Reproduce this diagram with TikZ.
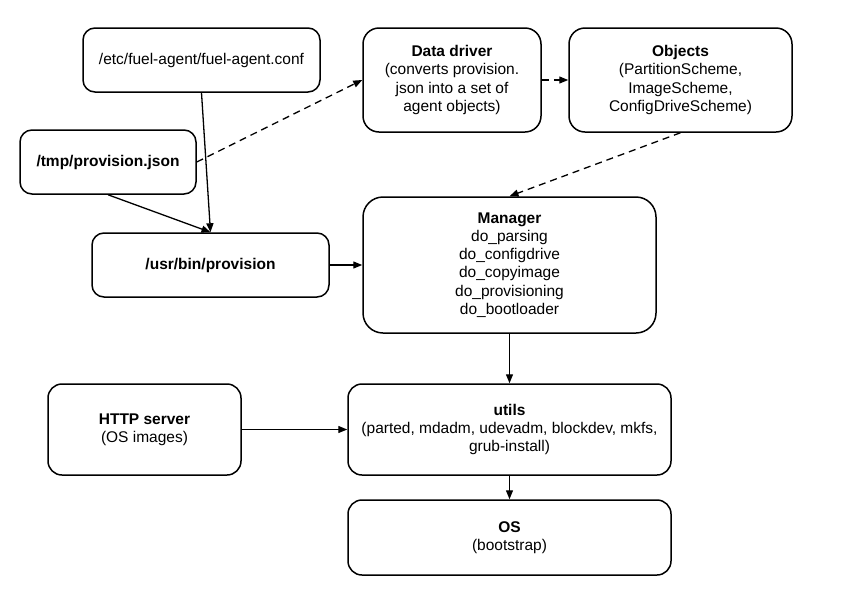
\documentclass[tikz,border=0pt]{standalone}
\usepackage{fontspec}
\setmainfont{Liberation Sans}
\usetikzlibrary{arrows.meta}

\begin{document}
\begin{tikzpicture}[x=1pt,y=-1pt,
    box/.style={draw,line width=1.5pt,rounded corners=12pt,align=center,
        font=\fontsize{15.5}{18.3}\selectfont,inner sep=0pt},
    link/.style={line width=1.3pt,-{Triangle[length=9pt,width=7pt]}},
    dlink/.style={link,dash pattern=on 7pt off 5pt}]
            \useasboundingbox (0,0) rectangle (847,598);

            \node[box,minimum width=237pt,minimum height=64pt] (conf) at (201.5,60) {/etc/fuel-agent/fuel-agent.conf};
            \node[box,minimum width=176pt,minimum height=64pt] (json) at (108,162) {\textbf{/tmp/provision.json}};
            \node[box,minimum width=237pt,minimum height=64pt] (usrbin) at (210.5,265) {\textbf{/usr/bin/provision}};
            \node[box,minimum width=178pt,minimum height=104pt,rounded corners=16pt] (driver) at (452,80)
                {\textbf{Data driver}\\(converts provision.\\json into a set of\\agent objects)};
            \node[box,minimum width=223pt,minimum height=104pt,rounded corners=16pt] (objects) at (680.5,80)
                {\textbf{Objects}\\(PartitionScheme,\\ImageScheme,\\ConfigDriveScheme)};
            \node[box,minimum width=293pt,minimum height=136pt,rounded corners=20pt] (manager) at (509.5,265)
                {\textbf{Manager}\\do\_parsing\\do\_configdrive\\do\_copyimage\\do\_provisioning\\do\_bootloader};
            \node[box,minimum width=193pt,minimum height=91pt,rounded corners=14pt] (http) at (144.5,429.5)
                {\textbf{HTTP server}\\(OS images)};
            \node[box,minimum width=323pt,minimum height=91pt,rounded corners=14pt] (utils) at (509.5,429.5)
                {\textbf{utils}\\(parted, mdadm, udevadm, blockdev, mkfs,\\grub-install)};
            \node[box,minimum width=323pt,minimum height=75pt,rounded corners=14pt] (os) at (509.5,537.5)
                {\textbf{OS}\\(bootstrap)};

            \draw[link] (conf.south) -- (usrbin.north);
            \draw[link] (json.south) -- (usrbin.north);
            \draw[dlink] (json.east) -- (driver.west);
            \draw[dlink] (driver.east) -- (objects.west);
            \draw[dlink] (objects.south) -- (manager.north);
            \draw[link] (usrbin.east) -- (manager.west);
            \draw[link] (manager.south) -- (utils.north);
            \draw[link] (http.east) -- (utils.west);
            \draw[link] (utils.south) -- (os.north);
        \end{tikzpicture}
\end{document}
